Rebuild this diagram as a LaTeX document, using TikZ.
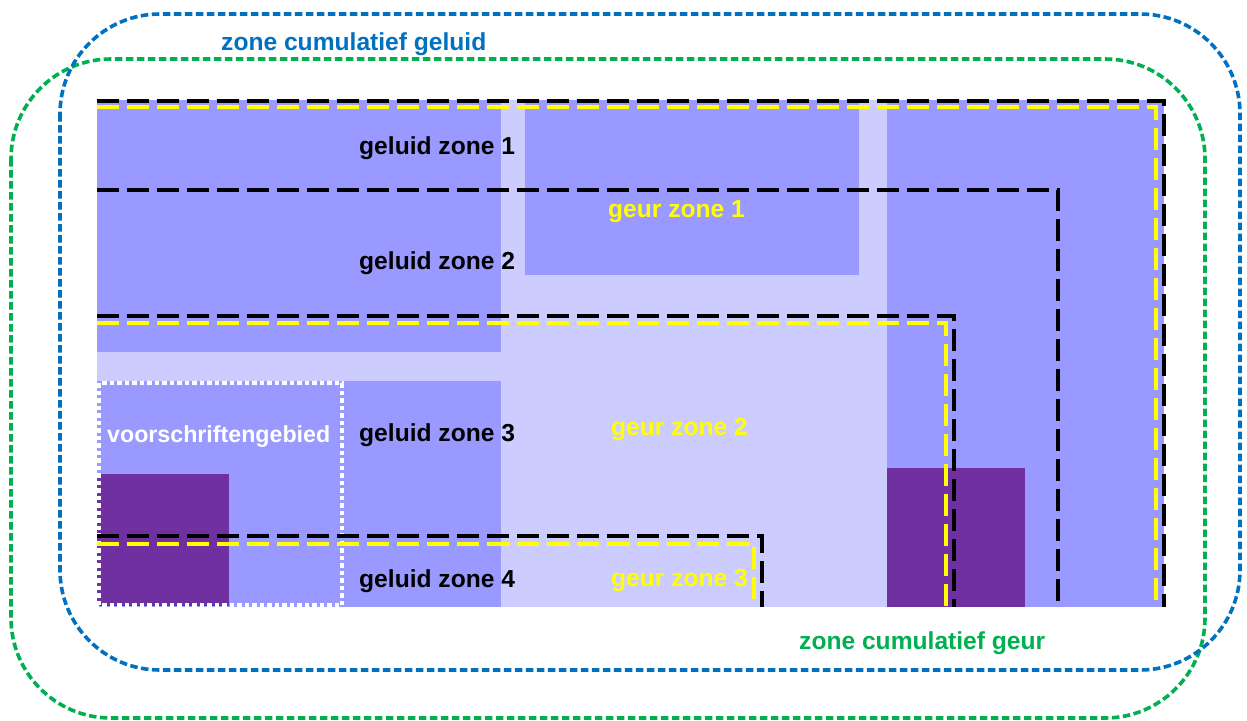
\documentclass[tikz,border=0pt]{standalone}
\usepackage{fontspec}
\setmainfont{Liberation Sans}
\definecolor{lav}{HTML}{CCCCFF}
\definecolor{mid}{HTML}{9999FF}
\definecolor{purp}{HTML}{7030A0}
\definecolor{zblue}{HTML}{0070C0}
\definecolor{zgreen}{HTML}{00B050}
\definecolor{zyel}{HTML}{FFFF00}
\tikzset{
  cumline/.style={line width=3.6pt, dash pattern=on 7.5pt off 3.5pt, rounded corners=100pt},
  blackdash/.style={black, line width=3.4pt, dash pattern=on 22pt off 8pt},
  yeldash/.style={zyel, line width=3.2pt, dash pattern=on 22pt off 8pt},
  lbl/.style={inner sep=0pt, anchor=west, font=\fontsize{24.6}{29}\selectfont\bfseries},
}
\begin{document}
\begin{tikzpicture}[x=1pt,y=-1pt]
\useasboundingbox (0,0) rectangle (1247,720);
% background areas
\fill[lav] (97,100) rectangle (1164,607);
\fill[mid] (97,100) rectangle (501,352);
\fill[mid] (525,100) rectangle (859,275);
\fill[mid] (887,100) rectangle (1164,607);
\fill[mid] (97,381) rectangle (501,607);
\fill[purp] (97,474) rectangle (229,606);
\fill[purp] (887,468) rectangle (1025,607);
% voorschriftengebied border
\draw[white, line width=4.5pt, dash pattern=on 4.5pt off 3pt] (99,383) rectangle (342,605);
% zone borders
\draw[zgreen, cumline] (11,59) rectangle (1205,718);
\draw[zblue, cumline] (60,14) rectangle (1240,670);
% geur / geluid zone lines
\draw[yeldash] (97,107) -- (1156,107) -- (1156,607);
\draw[yeldash] (97,323) -- (946,323) -- (946,607);
\draw[yeldash] (97,544) -- (754,544) -- (754,607);
\draw[blackdash] (97,101) -- (1164,101) -- (1164,607);
\draw[blackdash] (97,190) -- (1058,190) -- (1058,605);
\draw[blackdash] (97,316) -- (954,316) -- (954,607);
\draw[blackdash] (97,536) -- (762,536) -- (762,607);
% labels
\node[lbl, zblue] (cumgeluid) at (221,44) {zone cumulatief geluid};
\node[lbl, zgreen] (cumgeur) at (799,643) {zone cumulatief geur};
\node[lbl] (gz1) at (359,148) {geluid zone 1};
\node[lbl] (gz2) at (359,263) {geluid zone 2};
\node[lbl] (gz3) at (359,435) {geluid zone 3};
\node[lbl] (gz4) at (359,581) {geluid zone 4};
\node[lbl, zyel] (oz1) at (608,212) {geur zone 1};
\node[lbl, zyel] (oz2) at (611,430) {geur zone 2};
\node[lbl, zyel] (oz3) at (611,581) {geur zone 3};
\node[lbl, white, font=\fontsize{23.2}{28}\selectfont\bfseries] (vg) at (107,437) {voorschriftengebied};
\end{tikzpicture}
\end{document}
